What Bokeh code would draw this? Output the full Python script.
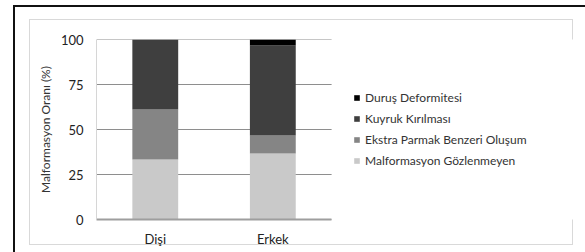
from bokeh.plotting import figure
from bokeh.models import Range1d, Legend, LegendItem, FixedTicker
from bokeh.embed import file_html
from bokeh.resources import INLINE

categories = ["Dişi", "Erkek"]
series_names = ["Malformasyon Gözlenmeyen", "Ekstra Parmak Benzeri Oluşum", "Kuyruk Kırılması", "Duruş Deformitesi"]
malformasyon_yok = [33.3, 36.7]
ekstra_parmak = [27.8, 10.0]
kuyruk_kirilmasi = [38.9, 50.0]
durus_deformitesi = [0.0, 3.3]
y_ticks = [0, 25, 50, 75, 100]
colors = ["#c9c9c9", "#858585", "#3f3f3f", "#000000"]

FONT = "Lato"

positions = [i + 0.5 for i in range(len(categories))]
n = len(categories)

p = figure(width=585, height=252, x_range=Range1d(0, 4.16), y_range=Range1d(0, 100),
           output_backend="svg", toolbar_location=None,
           min_border_left=96, min_border_right=0, min_border_top=39, min_border_bottom=33)
p.outline_line_color = None
p.background_fill_color = "white"
p.border_fill_color = None

def line(color, x, y, w, h):
    return f"linear-gradient({color},{color}) {x}px {y}px / {w}px {h}px no-repeat"

p.styles = {"background": ", ".join([
    line("#111111", 13, 5, 572, 2),
    line("#111111", 13, 5, 2, 247),
    line("#d9d9d9", 29, 19, 544, 1),
    line("#d9d9d9", 29, 244, 544, 1),
    line("#d9d9d9", 29, 19, 1, 226),
    line("#d9d9d9", 572, 19, 1, 226),
]) + ", white"}

# horizontal gridlines limited to the category area
p.segment(x0=[0] * len(y_ticks), x1=[n] * len(y_ticks), y0=y_ticks, y1=y_ticks,
          line_color="#8e8e8e", line_width=1)

data = {"x": positions, "s0": malformasyon_yok, "s1": ekstra_parmak, "s2": kuyruk_kirilmasi, "s3": durus_deformitesi}
renderers = p.vbar_stack(["s0", "s1", "s2", "s3"], x="x", width=0.39, color=colors, source=data, line_width=0)

items = [LegendItem(label=series_names[i], renderers=[renderers[i]]) for i in [3, 2, 1, 0]]
legend = Legend(items=items, location=(257, 51), glyph_width=7, glyph_height=7, label_height=14,
                spacing=6, padding=0, margin=0, label_standoff=5, border_line_color=None,
                background_fill_alpha=0, label_text_font=FONT, label_text_font_size="12px",
                label_text_color="#333333")
p.add_layout(legend, "center")

p.xgrid.grid_line_color = None
p.ygrid.grid_line_color = None
p.yaxis.ticker = FixedTicker(ticks=y_ticks)
p.xaxis.ticker = FixedTicker(ticks=positions)
p.xaxis.major_label_overrides = {pos: cat for pos, cat in zip(positions, categories)}
p.xaxis.bounds = (0, n)
p.yaxis.axis_line_color = "#d6d6d6"
p.xaxis.axis_line_color = "#9e9e9e"
p.xaxis.axis_line_width = 2
for ax in (p.xaxis, p.yaxis):
    ax.major_tick_line_color = None
    ax.minor_tick_line_color = None
    ax.major_tick_out = 0
    ax.major_tick_in = 0
    ax.minor_tick_out = 0
    ax.major_label_text_font = FONT
    ax.major_label_text_font_size = "13px"
    ax.major_label_text_color = "#222222"
    ax.major_label_standoff = 13
p.xaxis.major_label_standoff = 11
p.yaxis.axis_label = "Malformasyon Oranı (%)"
p.yaxis.axis_label_text_font = FONT
p.yaxis.axis_label_text_font_size = "12px"
p.yaxis.axis_label_text_font_style = "normal"
p.yaxis.axis_label_text_color = "#333333"
p.yaxis.axis_label_standoff = 5

open("out.html", "w").write(file_html(p, INLINE))
